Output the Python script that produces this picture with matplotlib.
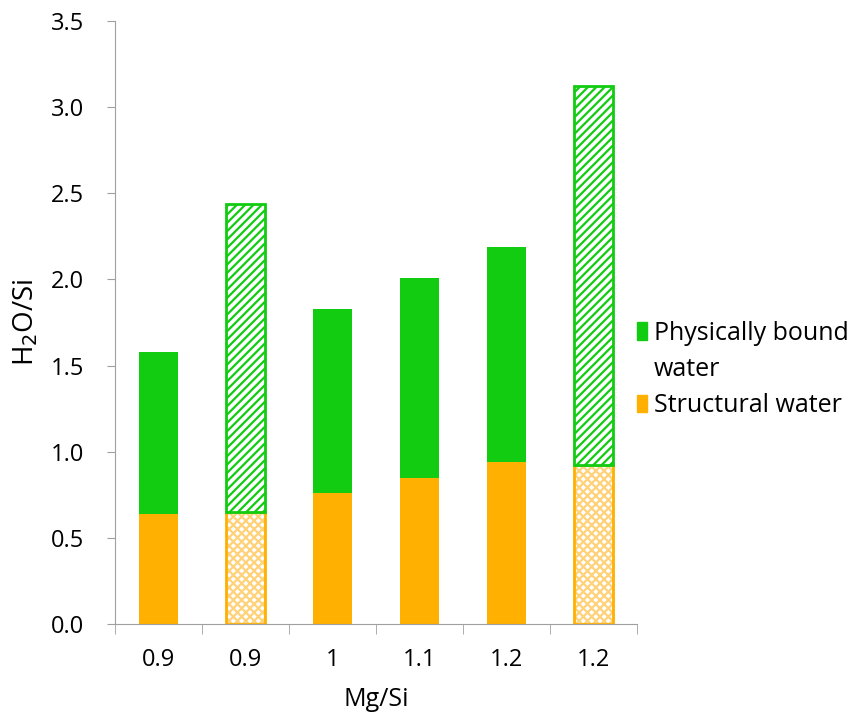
import numpy as np
import matplotlib.pyplot as plt
from matplotlib.patches import Patch

plt.rcParams['font.family'] = ['Open Sans', 'DejaVu Sans']
plt.rcParams['hatch.linewidth'] = 1.6

categories = ["0.9", "0.9", "1", "1.1", "1.2", "1.2"]
total_water = [1.58, 2.44, 1.83, 2.01, 2.19, 3.12]
structural_water = [0.64, 0.65, 0.76, 0.85, 0.94, 0.92]
hatched = [False, True, False, False, False, True]

green = "#11cc11"
orange = "#ffb000"
light_orange = "#ffd27a"

physical_water = [t - s for t, s in zip(total_water, structural_water)]

fig = plt.figure(figsize=(8.51, 7.15), dpi=100)
ax = fig.add_axes([0.135, 0.1273, 0.6135, 0.8433])

x = np.arange(len(categories))
w = 0.44
for i in x:
    s = structural_water[i]
    p = physical_water[i]
    if hatched[i]:
        ax.bar(i, s, w, color="white", edgecolor=light_orange, hatch="xxxx", linewidth=0)
        ax.bar(i, s, w, fill=False, edgecolor=orange, linewidth=2)
        ax.bar(i, p, w, bottom=s, color="white", edgecolor=green, hatch="////", linewidth=2)
    else:
        ax.bar(i, s, w, color=orange, linewidth=0)
        ax.bar(i, p, w, bottom=s, color=green, linewidth=0)

ax.set_xlim(-0.5, len(categories) - 0.5)
ax.set_ylim(0, 3.5)
ax.set_yticks(np.arange(0, 3.51, 0.5))
ax.set_yticklabels([f"{v:.1f}" for v in np.arange(0, 3.51, 0.5)])
ax.set_xticks(x)
ax.set_xticklabels(categories)
ax.set_xticks(np.arange(-0.5, len(categories)), minor=True)
ax.tick_params(axis="x", which="major", length=0, pad=17, labelsize=17)
ax.tick_params(axis="x", which="minor", length=7, color="#a0a0a0", direction="out")
ax.tick_params(axis="y", length=6, color="#a0a0a0", labelsize=17, pad=16)

for side in ["top", "right"]:
    ax.spines[side].set_visible(False)
for side in ["left", "bottom"]:
    ax.spines[side].set_color("#a0a0a0")

ax.set_xlabel("Mg/Si", fontsize=18, labelpad=11)
ax.set_ylabel("H$_2$O/Si", fontsize=20, labelpad=8)

# the first label wraps in the reference; its second line gets a blank handle
handles = [Patch(color=green, label="Physically bound"),
           Patch(color="none", label="water"),
           Patch(color=orange, label="Structural water")]
leg = fig.legend(handles=handles, loc="center left", bbox_to_anchor=(0.748, 0.483),
                 frameon=False, fontsize=18, handlelength=0.4, handleheight=0.7,
                 handletextpad=0.3, labelspacing=0.45, borderpad=0, borderaxespad=0)

fig.savefig("out.png", dpi=100)
